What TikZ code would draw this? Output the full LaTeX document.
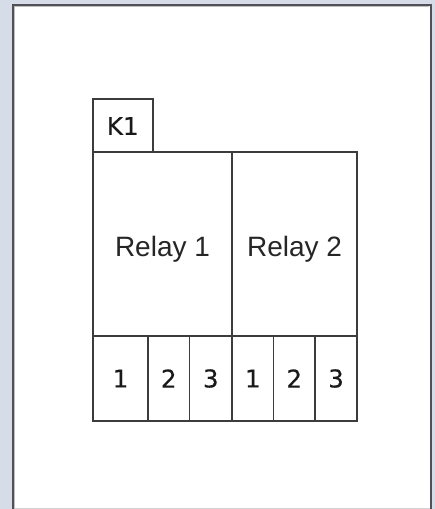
\documentclass[tikz,border=0pt]{standalone}
\usepackage{fontspec}
\setmainfont{Liberation Sans}
\newfontfamily\dejavu[FakeBold=0.4]{DejaVu Sans}
\definecolor{bgblue}{HTML}{D6DCE8}
\definecolor{lineg}{HTML}{3C3C3C}
\definecolor{frameg}{HTML}{505056}
\begin{document}
\begin{tikzpicture}[x=1pt,y=-1pt,
  cell/.style={draw=lineg, line width=1.6pt, inner sep=0pt, outer sep=0pt, anchor=north west},
  numtext/.style={font=\dejavu\fontsize{24.5}{24.5}\selectfont, text=black!90},
  relaytext/.style={font=\fontsize{28}{28}\selectfont, text=black!85}]
\useasboundingbox (0,0) rectangle (435,509);
\fill[bgblue] (0,0) rectangle (435,509);
\fill[white] (12.5,4.5) rectangle (430.5,509);
\draw[gray!35, line width=1pt] (12.5,508) -- (430.5,508);
\draw[frameg, line width=2pt] (12.5,509) -- (12.5,4.5) -- (430.5,4.5) -- (430.5,509);
\draw[gray!50, line width=0.8pt] (14.5,509) -- (14.5,6.5) -- (428.5,6.5);
% K1 tab
\node[cell, minimum width=60pt, minimum height=53pt] (k1) at (92.7,99) {};
\node[numtext] (k1t) at ([yshift=-0.5pt]k1.center) {K1};
% relays
\node[cell, minimum width=139pt, minimum height=184pt] (relay1) at (93,152) {};
\node[relaytext] (r1t) at ([yshift=-5pt]relay1.center) {Relay 1};
\node[cell, minimum width=125pt, minimum height=184pt] (relay2) at (232,152) {};
\node[relaytext] (r2t) at ([yshift=-5pt]relay2.center) {Relay 2};
% terminals
\node[cell, minimum width=55pt, minimum height=85pt] (t1) at (93,336) {};
\node[cell, minimum width=41.5pt, minimum height=85pt] (t2) at (148,336) {};
\node[cell, minimum width=42.5pt, minimum height=85pt] (t3) at (189.5,336) {};
\node[cell, minimum width=41.5pt, minimum height=85pt] (t4) at (232,336) {};
\node[cell, minimum width=41.5pt, minimum height=85pt] (t5) at (273.5,336) {};
\node[cell, minimum width=42pt, minimum height=85pt] (t6) at (315,336) {};
\node[numtext] (t1t) at (t1.center) {1};
\node[numtext] (t2t) at (t2.center) {2};
\node[numtext] (t3t) at (t3.center) {3};
\node[numtext] (t4t) at (t4.center) {1};
\node[numtext] (t5t) at (t5.center) {2};
\node[numtext] (t6t) at (t6.center) {3};
\end{tikzpicture}
\end{document}
